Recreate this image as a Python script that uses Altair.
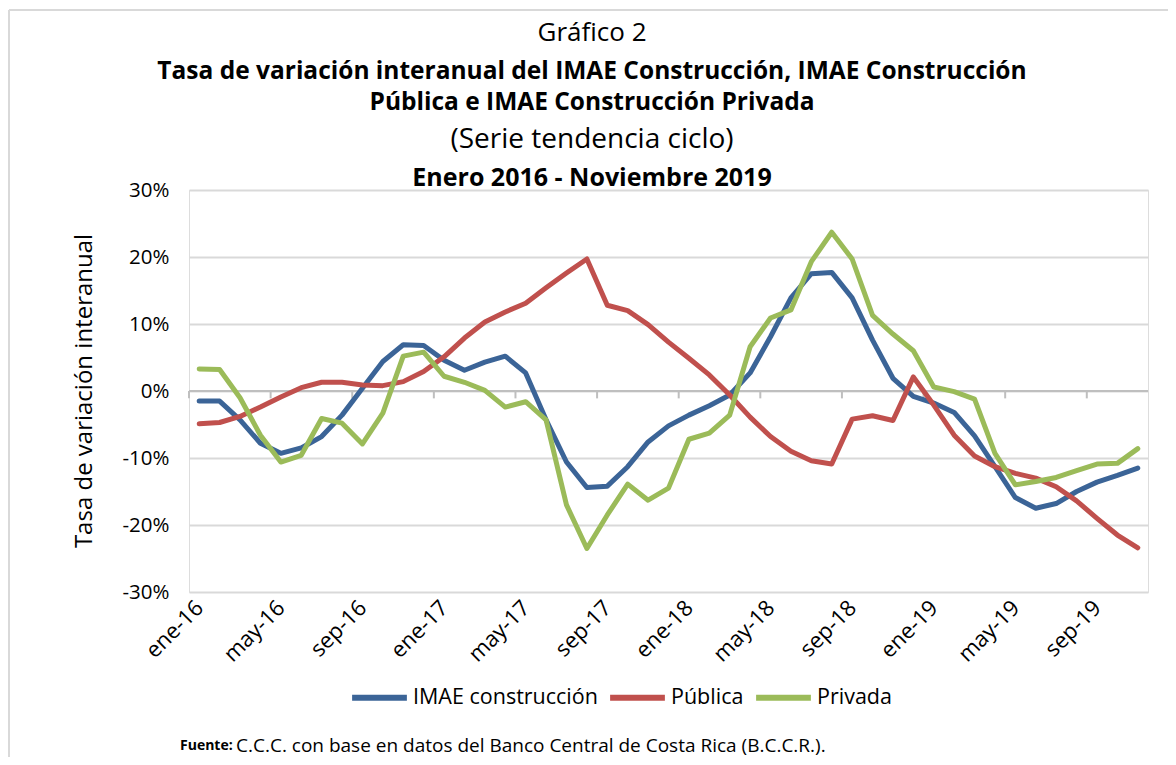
import altair as alt
import pandas as pd

months = ["ene-16","feb-16","mar-16","abr-16","may-16","jun-16","jul-16","ago-16","sep-16","oct-16","nov-16","dic-16",
          "ene-17","feb-17","mar-17","abr-17","may-17","jun-17","jul-17","ago-17","sep-17","oct-17","nov-17","dic-17",
          "ene-18","feb-18","mar-18","abr-18","may-18","jun-18","jul-18","ago-18","sep-18","oct-18","nov-18","dic-18",
          "ene-19","feb-19","mar-19","abr-19","may-19","jun-19","jul-19","ago-19","sep-19","oct-19","nov-19"]

imae = [-1.5,-1.5,-4.3,-7.8,-9.3,-8.5,-6.8,-3.6,0.4,4.4,6.9,6.8,
        4.6,3.1,4.3,5.2,2.7,-4.3,-10.6,-14.4,-14.2,-11.3,-7.6,-5.2,
        -3.6,-2.2,-0.6,2.7,8.1,13.9,17.5,17.7,13.9,7.6,1.9,-0.8,
        -1.8,-3.2,-6.7,-11.3,-15.9,-17.5,-16.8,-15.0,-13.6,-12.6,-11.5]
publica = [-4.9,-4.7,-3.8,-2.4,-0.9,0.5,1.3,1.3,0.9,0.8,1.4,2.9,
           5.1,7.9,10.3,11.8,13.1,15.4,17.6,19.7,12.8,12.0,9.9,7.3,
           4.9,2.4,-0.6,-3.9,-6.8,-9.0,-10.4,-10.9,-4.2,-3.7,-4.4,2.1,
           -2.1,-6.6,-9.7,-11.3,-12.3,-13.0,-14.3,-16.4,-19.0,-21.5,-23.4]
privada = [3.3,3.2,-1.0,-6.6,-10.6,-9.6,-4.1,-4.8,-7.9,-3.3,5.2,5.8,
           2.2,1.3,0.1,-2.4,-1.6,-4.3,-17.0,-23.5,-18.5,-13.9,-16.3,-14.5,
           -7.2,-6.3,-3.6,6.6,10.9,12.1,19.3,23.7,19.7,11.3,8.5,6.0,
           0.6,-0.1,-1.2,-9.3,-14.0,-13.5,-12.9,-11.9,-10.9,-10.8,-8.6]

series_names = ["IMAE construcción", "Pública", "Privada"]
series_colors = ["#3B6497", "#C0504D", "#9BBB59"]
tick_labels = months[::4]
y_ticks = [-30, -20, -10, 0, 10, 20, 30]

FONT = "Open Sans"
W, H = 959, 402

rows = []
for name, vals in zip(series_names, [imae, publica, privada]):
    for i, v in enumerate(vals):
        rows.append({"idx": i, "mes": months[i], "serie": name, "valor": v})
df = pd.DataFrame(rows)

label_arr = "[" + ",".join("'" + m + "'" for m in tick_labels) + "]"

xscale = alt.Scale(domain=[-0.5, len(months) - 0.5], nice=False, zero=False)
yscale = alt.Scale(domain=[-30, 30], nice=False)

lines = alt.Chart(df).mark_line(strokeWidth=5, strokeCap="round", strokeJoin="round").encode(
    x=alt.X("idx:Q", scale=xscale,
            axis=alt.Axis(values=list(range(0, len(months), 4)), labelExpr=label_arr + "[round(datum.value/4)]",
                          labelAngle=-45, labelAlign="right", labelBaseline="middle", labelPadding=12,
                          labelFontSize=22, labelFont=FONT, labelColor="#000000",
                          domain=False, ticks=False, grid=False, title=None)),
    y=alt.Y("valor:Q", scale=yscale,
            axis=alt.Axis(values=y_ticks, labelExpr="datum.value + '%'", labelFontSize=20.5, labelFont=FONT,
                          labelColor="#000000", labelPadding=20, domain=False, ticks=False,
                          grid=True, gridColor="#d9d9d9", gridWidth=2, title=None)),
    color=alt.Color("serie:N", scale=alt.Scale(domain=series_names, range=series_colors),
                    legend=alt.Legend(orient="none", legendX=160, legendY=477, direction="horizontal",
                                      title=None, symbolType="stroke", symbolStrokeWidth=6, symbolSize=3000,
                                      labelFontSize=21.5, labelFont=FONT, labelColor="#000000", labelOffset=3,
                                      labelLimit=0, columnPadding=0, symbolOffset=0)),
    order=alt.Order("serie_order:Q"),
).transform_calculate(
    serie_order="indexof(" + "['" + "','".join(series_names) + "']" + ", datum.serie)"
)

zero_df = pd.DataFrame({"v": [0]})
zero_line = alt.Chart(zero_df).mark_rule(color="#bfbfbf", strokeWidth=2).encode(
    y=alt.Y("v:Q", scale=yscale), x=alt.value(0), x2=alt.value(W))

bounds = pd.DataFrame({"b": [i - 0.5 for i in range(0, len(months), 4)]})
tick_marks = alt.Chart(bounds).mark_rule(color="#bfbfbf", strokeWidth=2).encode(
    x=alt.X("b:Q", scale=xscale), y=alt.datum(0), y2=alt.datum(-1.1))

def text_layer(txt, x, y, size, weight="normal", align="center", angle=0, color="#000000"):
    return alt.Chart(pd.DataFrame({"t": [txt]})).mark_text(
        font=FONT, fontSize=size, fontWeight=weight, align=align, baseline="middle", angle=angle, color=color
    ).encode(text="t:N", x=alt.value(x), y=alt.value(y))

cx = 403
titles = [
    text_layer("Gráfico 2", cx, -157, 26),
    text_layer("Tasa de variación interanual del IMAE Construcción, IMAE Construcción", cx, -118, 24.5, "bold"),
    text_layer("Pública e IMAE Construcción Privada", cx, -87, 24.5, "bold"),
    text_layer("(Serie tendencia ciclo)", cx, -50, 28),
    text_layer("Enero 2016 - Noviembre 2019", cx, -12, 25, "bold"),
    text_layer("Tasa de variación interanual", -104, 201, 24, angle=270),
    text_layer("Fuente:", -9, 556, 14, "bold", align="left"),
    text_layer("C.C.C. con base en datos del Banco Central de Costa Rica (B.C.C.R.).", 47, 556, 19, align="left"),
]

border_left = alt.Chart(zero_df).mark_rule(color="#d9d9d9", strokeWidth=2).encode(
    x=alt.value(-180), y=alt.value(-180), y2=alt.value(H + 170))
border_top = alt.Chart(zero_df).mark_rule(color="#d9d9d9", strokeWidth=2).encode(
    x=alt.value(-180), x2=alt.value(W + 30), y=alt.value(-180))

chart = alt.layer(zero_line, tick_marks, lines, border_left, border_top, *titles).properties(
    width=W, height=H,
    autosize=alt.AutoSizeParams(type="none"),
    padding={"left": 181, "top": 182, "right": 20, "bottom": 165},
).configure_view(stroke=None).configure(background="#ffffff")

chart.save("out.html", embed_options={"renderer": "svg", "actions": False})
